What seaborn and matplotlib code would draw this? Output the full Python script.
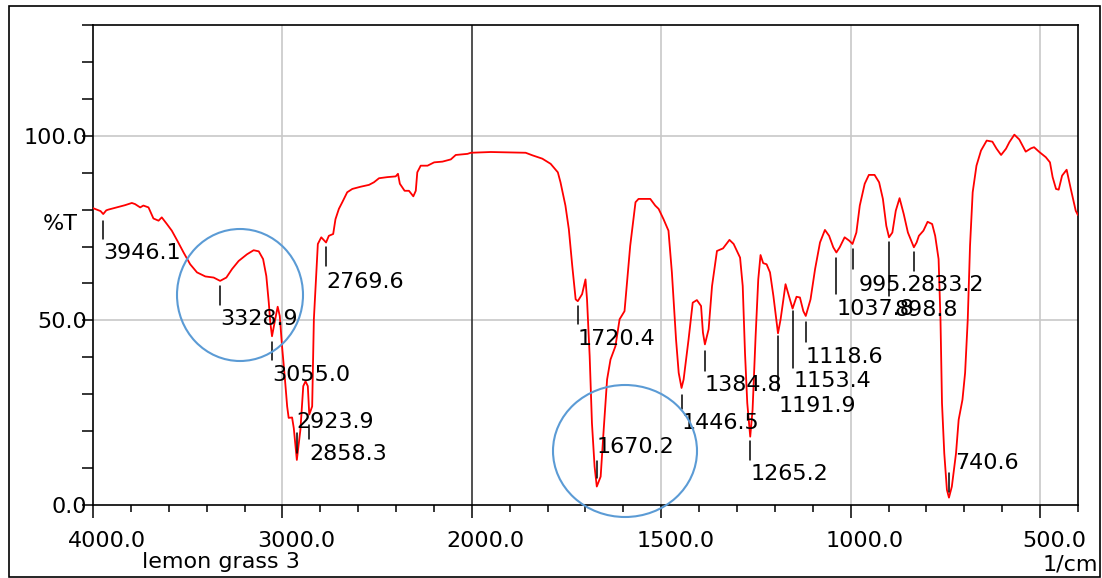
import numpy as np
import matplotlib
matplotlib.use("Agg")
import matplotlib.pyplot as plt
import matplotlib.transforms as mtransforms
from matplotlib.patches import Ellipse, Rectangle
from matplotlib.ticker import FixedLocator, FixedFormatter, NullFormatter
import seaborn as sns

# FTIR spectrum of the lemon grass sample: wavenumber (1/cm) vs transmittance (%T)
wavenumber = [
    4000, 3960, 3946.1, 3930, 3919, 3875, 3831, 3795, 3778, 3751, 3734, 3707,
    3681, 3654, 3637, 3610, 3584, 3554, 3522, 3487, 3451, 3407, 3363, 3328.9,
    3296, 3266, 3231, 3187, 3152, 3125, 3102, 3085, 3072, 3064, 3055.0, 3040,
    3025, 3014, 3002, 2988, 2975, 2967, 2949, 2940, 2923.9, 2905, 2890, 2878,
    2866, 2858.3, 2843, 2834, 2820, 2813, 2795, 2769.6, 2755, 2732, 2720, 2702,
    2684, 2658, 2631, 2587, 2543, 2517, 2490, 2446, 2402, 2390, 2380, 2355,
    2332, 2309, 2296, 2288, 2270, 2234, 2199, 2155, 2111, 2085, 2023, 2005,
    1950, 1858, 1840, 1814, 1792, 1773, 1766, 1753, 1744, 1735, 1726, 1720.4,
    1709, 1700, 1696, 1689, 1683, 1676, 1670.2, 1660, 1652, 1643, 1634, 1621,
    1610, 1597, 1592, 1582, 1568, 1560, 1529, 1516, 1507, 1494, 1481, 1472,
    1461, 1454, 1446.5, 1441, 1428, 1417, 1406, 1395, 1390, 1384.8, 1375, 1366,
    1353, 1337, 1320, 1309, 1292, 1285, 1279, 1273, 1265.2, 1259, 1251, 1244,
    1238, 1231, 1222, 1213, 1204, 1191.9, 1185, 1172, 1163, 1153.4, 1143, 1134,
    1125, 1118.6, 1106, 1094, 1081, 1068, 1057, 1046, 1037.8, 1029, 1016, 1004,
    995.2, 985, 976, 963, 952, 937, 925, 915, 906, 898.8, 890, 881,
    871, 860, 849, 833.2, 826, 820, 808, 797, 785, 777, 768, 763,
    759, 753, 746, 740.6, 733, 722, 715, 705, 698, 691, 685, 678,
    668, 656, 641, 626, 615, 603, 590, 581, 568, 555, 538, 524,
    516, 502, 485, 474, 467, 458, 451, 442, 430, 419, 406, 400,
]
transmittance = [
    80.4, 79.6, 78.8, 79.8, 80.0, 80.6, 81.2, 81.8, 81.5, 80.6, 81.1, 80.6,
    77.6, 77.0, 77.9, 76.1, 74.3, 71.5, 68.4, 65.2, 63.0, 61.9, 61.6, 60.7,
    61.6, 63.9, 66.1, 67.9, 69.0, 68.7, 66.6, 62.0, 54.8, 49.4, 45.7, 49.8,
    53.7, 51.2, 43.0, 34.9, 26.7, 23.6, 23.7, 20.8, 12.2, 20.4, 32.2, 33.5,
    32.2, 24.5, 26.7, 50.3, 63.9, 70.7, 72.5, 71.1, 72.9, 73.4, 77.4, 80.2,
    82.0, 84.7, 85.6, 86.2, 86.7, 87.4, 88.5, 88.8, 89.0, 89.7, 87.0, 85.1,
    85.1, 83.6, 85.1, 90.1, 91.9, 91.9, 92.8, 93.0, 93.6, 94.8, 95.1, 95.4,
    95.6, 95.4, 94.7, 93.8, 92.4, 90.1, 87.4, 81.1, 74.7, 64.8, 55.7, 55.2,
    57.1, 61.1, 55.7, 40.3, 22.2, 10.4, 5.0, 7.7, 20.4, 34.0, 39.4, 43.0,
    50.3, 52.5, 58.4, 70.2, 82.0, 82.9, 82.9, 81.1, 80.2, 77.4, 74.3, 63.0,
    44.8, 35.8, 31.7, 34.0, 44.8, 54.8, 55.5, 53.9, 46.7, 43.5, 47.6, 59.3,
    68.8, 69.5, 71.8, 70.7, 67.0, 59.3, 41.2, 27.6, 18.5, 25.8, 45.7, 61.1,
    67.7, 65.5, 65.2, 63.0, 56.6, 46.5, 50.3, 59.8, 56.6, 53.2, 56.4, 56.2,
    52.5, 51.2, 55.7, 63.9, 71.1, 74.5, 72.9, 69.8, 68.4, 69.8, 72.5, 71.6,
    70.7, 73.8, 81.1, 87.0, 89.4, 89.4, 87.4, 82.9, 75.6, 72.5, 73.8, 79.7,
    83.1, 78.8, 73.8, 69.8, 71.1, 72.9, 74.3, 76.7, 76.1, 72.9, 66.6, 50.3,
    27.6, 14.0, 4.1, 2.0, 5.0, 14.0, 23.1, 28.5, 35.8, 50.3, 70.2, 84.7,
    91.9, 96.0, 98.7, 98.4, 96.5, 94.8, 96.5, 98.3, 100.3, 99.0, 95.7, 96.6,
    96.9, 95.6, 94.2, 92.8, 88.8, 85.6, 85.4, 89.2, 90.8, 85.6, 79.7, 78.5,
]

# Picked peaks (1/cm)
peak_wavenumbers = [3946.1, 3328.9, 3055.0, 2923.9, 2858.3, 2769.6, 1720.4,
                    1670.2, 1446.5, 1384.8, 1265.2, 1191.9, 1153.4, 1118.6,
                    1037.8, 995.2, 898.8, 833.2, 740.6]
# Peak marker layout: tick top (%T), tick bottom (%T), label top (%T), label x shift (px)
peak_layout = [
    (76.9, 72.0, 70.9, 0), (59.3, 54.3, 53.2, 0), (44.1, 39.2, 37.8, 0),
    (19.6, 14.1, 25.2, 0), (21.7, 17.9, 16.5, 0), (69.8, 64.8, 63.2, 0),
    (53.9, 48.9, 47.8, 0), (11.8, 7.3, 18.3, 0), (29.9, 26.1, 24.9, 0),
    (41.7, 36.2, 35.3, 0), (17.2, 12.2, 11.1, 0), (45.7, 30.8, 29.6, 1),
    (52.5, 37.1, 36.4, 1), (49.5, 44.1, 42.8, 0), (67.0, 57.1, 55.9, 0),
    (69.3, 64.0, 62.4, 6), (71.3, 56.6, 55.4, 5), (68.6, 63.4, 62.2, 7),
    (8.8, 3.6, 14.2, 6),
]

x_major = [4000, 3000, 2000, 1500, 1000, 500]
x_major_labels = ["4000.0", "3000.0", "2000.0", "1500.0", "1000.0", "500.0"]
y_major = [0, 50, 100]
y_major_labels = ["0.0", "50.0", "100.0"]

sns.set_style("white")
plt.rcParams["font.family"] = ["DejaVu Sans"]
plt.rcParams["text.color"] = "black"
plt.rcParams["xtick.color"] = "black"
plt.rcParams["ytick.color"] = "black"
FS = 16

W, H = 1102, 578
fig = plt.figure(figsize=(W / 100, H / 100), dpi=100)
ax = fig.add_axes([93 / W, 1 - 505 / H, (1078 - 93) / W, (505 - 25) / H])

sns.lineplot(x=wavenumber, y=transmittance, ax=ax, color="#FF0000",
             linewidth=1.3, estimator=None, sort=False, zorder=3)


# Instrument-style abscissa: 2x expansion below 2000 1/cm
def fwd(x):
    x = np.asarray(x, dtype=float)
    return np.where(x >= 2000, x, 2 * x - 2000)


def inv(u):
    u = np.asarray(u, dtype=float)
    return np.where(u >= 2000, u, (u + 2000) / 2)


ax.set_xscale("function", functions=(fwd, inv))
ax.set_xlim(4000, 400)
ax.set_ylim(0, 130)
ax.set_xlabel("")
ax.set_ylabel("")

# Grid
for v in [3000, 1500, 1000, 500]:
    ax.axvline(v, color="#c8c8c8", lw=1.2, zorder=1)
for h in [50, 100]:
    ax.axhline(h, color="#c8c8c8", lw=1.2, zorder=1)
ax.axvline(2000, color="#333333", lw=1.2, zorder=2)

# Ticks
x_minor = [t for t in list(range(3800, 2000, -200)) + list(range(1900, 399, -100))
           if t not in x_major]
ax.xaxis.set_major_locator(FixedLocator(x_major))
ax.xaxis.set_major_formatter(FixedFormatter(x_major_labels))
ax.xaxis.set_minor_locator(FixedLocator(x_minor))
ax.xaxis.set_minor_formatter(NullFormatter())
ax.yaxis.set_major_locator(FixedLocator(y_major))
ax.yaxis.set_major_formatter(FixedFormatter(y_major_labels))
ax.yaxis.set_minor_locator(FixedLocator([t for t in range(0, 131, 10) if t not in y_major]))
ax.yaxis.set_minor_formatter(NullFormatter())

ax.tick_params(axis="x", which="major", direction="out", length=9.4, width=1.1,
               pad=9.0, labelsize=FS, colors="black")
ax.tick_params(axis="x", which="minor", direction="out", length=5.0, width=1.1)
ax.tick_params(axis="y", which="both", direction="out", length=7.9, width=1.1,
               pad=-3.6, labelsize=FS, colors="black")
ax.tick_params(axis="both", which="both", bottom=True, left=True, top=False, right=False)

for sp in ax.spines.values():
    sp.set_color("black")
    sp.set_linewidth(1.2)
    sp.set_visible(True)

shift = mtransforms.ScaledTranslation(14 / 100, 0, fig.dpi_scale_trans)
for lbl in ax.get_xticklabels():
    lbl.set_transform(lbl.get_transform() + shift)

# Peak markers and labels
for wn, (t0, t1, tt, dx) in zip(peak_wavenumbers, peak_layout):
    ax.plot([wn, wn], [t0, t1], color="black", lw=1.1, zorder=4)
    off = mtransforms.ScaledTranslation(dx / 100, 0, fig.dpi_scale_trans)
    ax.text(wn, tt, f"{wn:.1f}", ha="left", va="top", fontsize=FS,
            color="black", transform=ax.transData + off, zorder=5)

# Axis captions
fig.text(60 / W, 1 - 224 / H, "%T", ha="center", va="center", fontsize=FS, color="black")
fig.text(142 / W, 1 - 568 / H, "lemon grass 3", ha="left", va="baseline",
         fontsize=FS, color="black")
fig.text(1098 / W, 1 - 570 / H, "1/cm", ha="right", va="baseline", fontsize=FS, color="black")

# Highlight circles
for (cx, cy, ew, eh) in [(240, 295, 126, 132), (625, 451, 144, 132)]:
    fig.add_artist(Ellipse((cx / W, 1 - cy / H), ew / W, eh / H,
                           transform=fig.transFigure, fill=False,
                           edgecolor="#5B9BD5", lw=1.5, zorder=10))

# Outer frame
fig.add_artist(Rectangle((9 / W, 1 - 577 / H), 1091 / W, 571 / H,
                         transform=fig.transFigure, fill=False,
                         edgecolor="black", lw=1.2))

fig.savefig("out.png", dpi=100)
